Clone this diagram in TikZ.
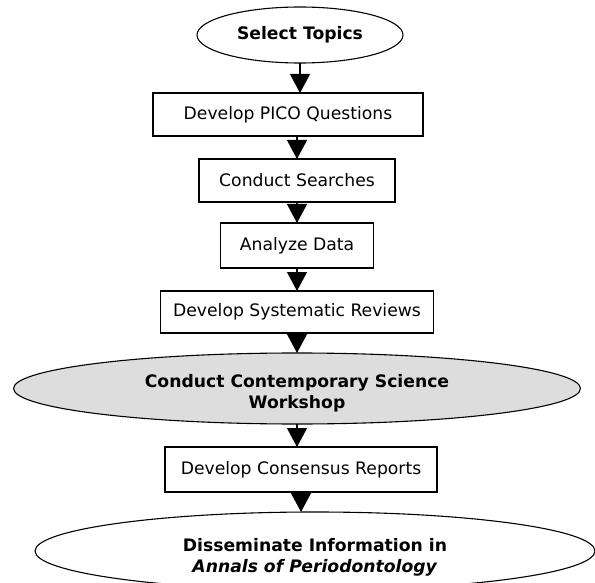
\documentclass[tikz,border=0pt]{standalone}
\usepackage{fontspec}
\setmainfont{DejaVu Sans}
\usepackage{tikz}
\usetikzlibrary{shapes.geometric, arrows.meta, positioning}
\definecolor{wsgray}{HTML}{DDDDDD}

\begin{document}
\begin{tikzpicture}[
    x=1pt, y=1pt,
    node distance=22pt,
    stepbox/.style={rectangle, draw=black, line width=1.1pt, minimum height=43pt, inner sep=0pt, outer sep=0pt, align=center, font=\fontsize{17.2}{21}\selectfont},
    oval/.style={ellipse, draw=black, line width=1.1pt, inner sep=0pt, outer sep=0pt, align=center, font=\fontsize{17.2}{21}\selectfont\bfseries},
    arrow/.style={-{Triangle[width=20pt, length=19pt]}, line width=1.1pt}
]
\useasboundingbox (0,0) rectangle (595,-583);

\node[oval, minimum width=206pt, minimum height=56pt] (st) at (300,-35) {Select Topics};
\node[stepbox, minimum width=270pt, below=30pt of st, xshift=-12pt] (b1) {Develop PICO Questions};
\node[stepbox, minimum width=196pt, below=23pt of b1, xshift=9pt] (b2) {Conduct Searches};
\node[stepbox, minimum width=153pt, minimum height=45pt, below=21pt of b2] (b3) {Analyze Data};
\node[stepbox, minimum width=273pt, minimum height=42pt, below=23pt of b3] (b4) {Develop Systematic Reviews};
% struts push the two-line texts a little below the centre, as in the source
\node[oval, fill=wsgray, minimum width=567pt, minimum height=71pt, below=20pt of b4] (ws) {\rule{0pt}{22pt}Conduct Contemporary Science\\Workshop};
\node[stepbox, minimum width=272pt, minimum height=45pt, below=23pt of ws, xshift=4pt] (b5) {Develop Consensus Reports};
\node[oval, minimum width=560pt, minimum height=78pt, below=20pt of b5, xshift=14pt] (fin) {\rule{0pt}{25pt}Disseminate Information in\\\textit{Annals of Periodontology}};

\draw[arrow] (st.south) -- (st.south |- b1.north);
\draw[arrow] (b2.north |- b1.south) -- (b2.north);
\draw[arrow] (b2) -- (b3);
\draw[arrow] (b3) -- (b4);
\draw[arrow] (b4) -- (ws);
\draw[arrow] (ws.south) -- (ws.south |- b5.north);
\draw[arrow] (b5.south) -- (b5.south |- fin.north);

\end{tikzpicture}
\end{document}
